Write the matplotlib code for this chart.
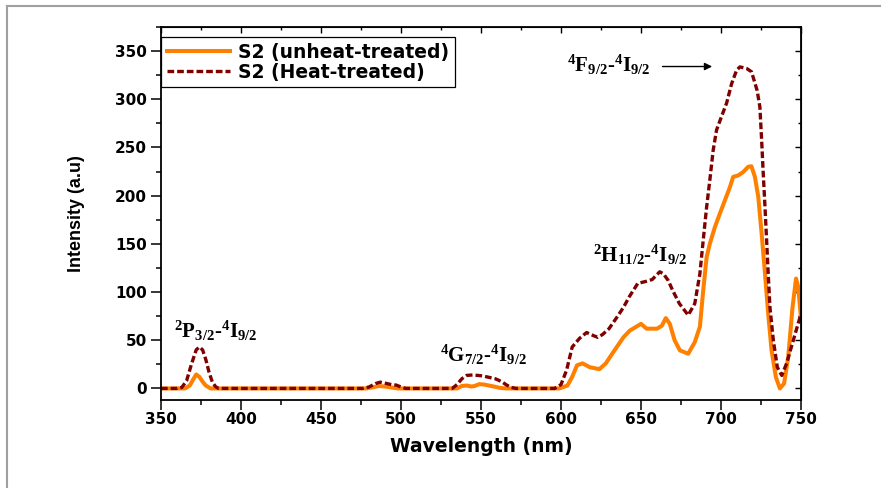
import matplotlib
matplotlib.use("Agg")
import matplotlib.pyplot as plt
from matplotlib.ticker import MultipleLocator
from matplotlib.lines import Line2D

plt.rcParams["mathtext.fontset"] = "custom"
plt.rcParams["mathtext.rm"] = "Liberation Serif:bold"
plt.rcParams["mathtext.it"] = "Liberation Serif:bold"
plt.rcParams["mathtext.bf"] = "Liberation Serif:bold"

# S2 (unheat-treated) spectrum
wl_unheat = [350, 365, 368, 370, 372, 374, 376, 378, 381, 478, 482, 486, 490, 494, 498,
             535, 538, 541, 544, 546, 549, 552, 555, 558, 562, 566, 599, 604, 607, 610,
             613.5, 618, 624, 628, 632, 639, 643, 647, 650, 653.5, 660, 663, 665.5, 668,
             671, 674.3, 679.5, 683.6, 686.8, 688.9, 691, 693, 696.2, 699.3, 702.4, 705.6,
             707.6, 710.8, 713.9, 717, 719, 721.2, 723.3, 725.4, 727.5, 729.5, 731.6,
             734.3, 736.8, 739.4, 742, 744.7, 746.9, 748.3, 750]
int_unheat = [0, 0, 3, 9, 14.5, 12, 7, 3, 0, 0, 1, 2.5, 2, 1, 0,
              0, 2.5, 3, 2, 2.5, 4.5, 4, 3, 2, 0.5, 0, 0, 3, 12, 24,
              26, 22, 20, 26, 36, 53, 60, 64, 67, 62, 62, 65, 73, 67,
              50, 39.5, 36, 48, 64, 102, 136, 150, 167.5, 181.5, 195, 209,
              219.5, 221, 224.6, 230, 230.5, 219.5, 198.7, 160.6, 119, 77.5, 39.5,
              11.7, 0, 5, 32.5, 84, 114, 105, 72]

# S2 (Heat-treated) spectrum
wl_heat = [350, 360, 363, 366, 369, 372, 374, 376, 378, 380, 382, 384, 386, 476, 480,
           484, 487, 490, 494, 497, 500, 503, 532, 535, 538, 541, 545, 548, 551, 555,
           559, 563, 566, 569, 572, 596, 600, 603.5, 607, 611.6, 616, 620, 623, 626,
           630, 635, 639, 643, 648, 653, 657, 661.7, 664, 667, 670, 674, 679.5, 683.6,
           686.8, 688.9, 691, 693, 695.1, 697.2, 700.3, 703.5, 706.6, 709.7, 711.8,
           716, 719.1, 722.6, 724.3, 725.4, 726.4, 727.5, 728.5, 729.5, 730.6, 732.7,
           735.2, 738, 741, 745.2, 749.4, 750]
int_heat = [0, 0, 1, 8, 25, 40, 43, 40, 30, 17, 7, 2, 0, 0, 1.5,
            5, 6.5, 5.5, 4, 3.5, 1.5, 0, 0, 4, 10, 13.5, 14, 13.5, 13, 11.5,
            10, 7, 3.5, 1, 0, 0, 4, 19, 43, 52, 58, 55, 53, 56,
            62, 74, 84, 96, 109, 111, 113, 121, 119, 112, 101, 88, 76, 88,
            119, 154, 188, 216, 247, 268, 282, 296, 316, 330, 333.6,
            332, 328.5, 309, 292, 257.5, 223, 188, 154, 119, 84, 50,
            22, 13.5, 26, 50, 74, 75]

fig = plt.figure(figsize=(8.81, 4.88), dpi=100)
ax = fig.add_axes([161 / 881, 1 - 400 / 488, 640 / 881, 373 / 488])

ax.plot(wl_unheat, int_unheat, color="#ff8000", lw=2.9, label="S2 (unheat-treated)")
ax.plot(wl_heat, int_heat, color="#800000", lw=2.4, ls=(0, (2, 0.9)),
        label="S2 (Heat-treated)")

ax.set_xlim(350, 750)
ax.set_ylim(-12, 375)
ax.xaxis.set_major_locator(MultipleLocator(50))
ax.xaxis.set_minor_locator(MultipleLocator(25))
ax.yaxis.set_major_locator(MultipleLocator(50))
ax.yaxis.set_minor_locator(MultipleLocator(25))
ax.tick_params(which="major", direction="out", length=7, width=1.1)
ax.tick_params(which="minor", direction="out", length=3.5, width=1.1)
ax.tick_params(axis="x", pad=2)
ax.tick_params(axis="y", pad=3)
for lab in ax.get_xticklabels() + ax.get_yticklabels():
    lab.set_fontfamily("DejaVu Sans")
    lab.set_fontweight("bold")
    lab.set_fontsize(11)
for sp in ax.spines.values():
    sp.set_linewidth(1.3)

# inward ticks on top and right
top = ax.secondary_xaxis("top")
top.xaxis.set_major_locator(MultipleLocator(50))
top.xaxis.set_minor_locator(MultipleLocator(25))
top.tick_params(which="both", direction="in", labeltop=False, width=1.0)
top.tick_params(which="major", length=4)
top.tick_params(which="minor", length=2)
right = ax.secondary_yaxis("right")
right.yaxis.set_major_locator(MultipleLocator(50))
right.yaxis.set_minor_locator(MultipleLocator(25))
right.tick_params(which="both", direction="in", labelright=False, width=1.0)
right.tick_params(which="major", length=4)
right.tick_params(which="minor", length=2)

ax.set_xlabel("Wavelength (nm)", fontfamily="DejaVu Sans", fontweight="bold",
              fontsize=13.5, labelpad=7)
ax.set_ylabel("Intensity (a.u)", fontfamily="Liberation Sans", fontweight="bold",
              fontsize=13, labelpad=22)

leg = ax.legend(loc="upper left", bbox_to_anchor=(0, 1 - 10 / 373), borderaxespad=0,
                prop={"family": "DejaVu Sans", "weight": "bold", "size": 13.5},
                handlelength=3.4, handletextpad=0.4, borderpad=0.3,
                labelspacing=0.05, fancybox=False, framealpha=1)
leg.get_frame().set_edgecolor("black")
leg.get_frame().set_linewidth(0.9)

tkw = dict(fontfamily="Liberation Serif", fontweight="bold", fontsize=15,
           ha="center", va="center")
ax.text(384, 60, r"$^{2}$P$_{3/2}$-$^{4}$I$_{9/2}$", **tkw)
ax.text(551.6, 35, r"$^{4}$G$_{7/2}$-$^{4}$I$_{9/2}$", **tkw)
ax.text(649.5, 138.6, r"$^{2}$H$_{11/2}$-$^{4}$I$_{9/2}$", **tkw)
ax.text(630, 336, r"$^{4}$F$_{9/2}$-$^{4}$I$_{9/2}$", **tkw)
ax.annotate("", xy=(696.2, 334), xytext=(661.7, 334),
            arrowprops=dict(arrowstyle="-|>", color="black", lw=1.0,
                            mutation_scale=11))

# grey frame around the picture
fig.add_artist(Line2D([7 / 881, 7 / 881], [0, 1 - 6 / 488], transform=fig.transFigure,
                      color="#a0a0a0", lw=1.5))
fig.add_artist(Line2D([7 / 881, 1], [1 - 6 / 488, 1 - 6 / 488], transform=fig.transFigure,
                      color="#a0a0a0", lw=1.5))

fig.savefig("out.png", dpi=100)
